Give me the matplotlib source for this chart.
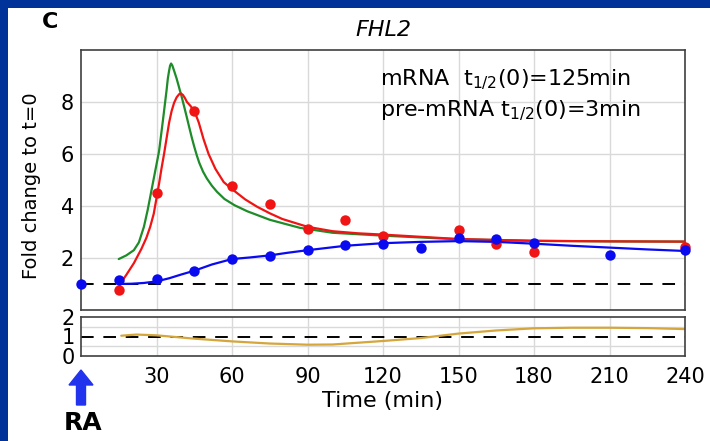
import matplotlib
matplotlib.use("Agg")
import matplotlib.pyplot as plt
from matplotlib.patches import Rectangle, FancyArrow

plt.rcParams["font.family"] = ["DejaVu Sans"]
plt.rcParams["mathtext.default"] = "regular"

# Measured fold changes (relative to t=0)
time_points = [0, 15, 30, 45, 60, 75, 90, 105, 120, 135, 150, 165, 180, 210, 240]
mrna_fold = [1.0, 1.15, 1.18, 1.5, 1.96, 2.06, 2.3, 2.5, 2.53, 2.4, 2.78, 2.72, 2.58, 2.13, 2.3]
pre_time = [15, 30, 45, 60, 75, 90, 105, 120, 150, 165, 180, 240]
pre_fold = [0.78, 4.5, 7.65, 4.76, 4.06, 3.1, 3.47, 2.85, 3.08, 2.55, 2.25, 2.44]

# Model fits
fit_green_t = [15, 18, 21, 23, 25, 26.5, 28, 29.5, 31, 32.5, 34, 34.5, 35, 35.4, 35.8, 36.3,
               37, 38, 39, 40, 41, 42, 43, 44, 45, 46, 47, 48.5, 50, 52, 54, 57, 61, 66,
               75, 87, 100, 120, 150, 180, 210, 240]
fit_green_v = [1.96, 2.1, 2.3, 2.6, 3.2, 3.85, 4.6, 5.35, 6.1, 7.25, 8.45, 8.9, 9.2, 9.4, 9.48,
               9.4, 9.2, 8.9, 8.55, 8.2, 7.82, 7.43, 7.03, 6.64, 6.28, 5.95, 5.66, 5.32, 5.06,
               4.78, 4.55, 4.27, 4.03, 3.8, 3.47, 3.16, 2.97, 2.86, 2.72, 2.66, 2.64, 2.63]
fit_red_t = [15.5, 18, 21, 24, 26, 27.5, 28.9, 30, 31, 32, 33, 34, 35, 36, 37, 38, 39, 39.7,
             40.5, 41.3, 42.1, 43.5, 45.2, 46.8, 48.7, 50.7, 53.4, 56.7, 60, 65.3, 70, 75,
             80, 87, 90, 100, 110, 120, 150, 180, 210, 240]
fit_red_v = [1.0, 1.35, 1.8, 2.35, 2.78, 3.2, 3.7, 4.3, 4.85, 5.45, 6.0, 6.6, 7.2, 7.65, 7.97,
             8.18, 8.3, 8.33, 8.27, 8.15, 8.0, 7.85, 7.62, 7.21, 6.57, 6.0, 5.43, 4.92, 4.65,
             4.25, 3.97, 3.72, 3.5, 3.29, 3.2, 3.03, 2.95, 2.9, 2.73, 2.66, 2.64, 2.63]
fit_blue_t = [15, 20, 25, 30, 35, 40, 45, 52, 60, 67, 75, 82, 90, 105, 120, 135, 150,
              165, 180, 195, 210, 225, 240]
fit_blue_v = [1.0, 1.01, 1.04, 1.1, 1.22, 1.37, 1.51, 1.75, 1.96, 2.02, 2.1, 2.2, 2.3, 2.47,
              2.57, 2.62, 2.65, 2.62, 2.55, 2.47, 2.4, 2.33, 2.27]

# Half-life ratio over time
ratio_t = [16, 22, 30, 45, 60, 75, 90, 100, 120, 135, 150, 165, 180, 195, 210, 225, 240]
ratio_v = [1.04, 1.1, 1.06, 0.89, 0.75, 0.64, 0.58, 0.59, 0.77, 0.92, 1.15, 1.31, 1.42, 1.45,
           1.45, 1.43, 1.38]

x_ticks = [30, 60, 90, 120, 150, 180, 210, 240]

W, H = 710, 441
fig = plt.figure(figsize=(W / 100, H / 100), dpi=100)
fig.patch.set_facecolor("#003399")
fig.add_artist(Rectangle((8 / W, 0), 1, 1 - 8 / H, transform=fig.transFigure,
                         facecolor="white", edgecolor="none", zorder=0))

BLUE = "#0a0af0"
RED = "#f01414"
GREEN = "#1e8c28"
GOLD = "#d4a63c"
GRID = "#d9d9d9"
SPINE = "#404040"
line_kw = dict(linewidth=1.6, solid_joinstyle="round", solid_capstyle="round")


def frame(ax):
    for s in ax.spines.values():
        s.set_color(SPINE)
        s.set_linewidth(1.2)
    ax.set_xlim(0, 240)
    ax.set_xticks(x_ticks)
    ax.grid(True, color=GRID, linewidth=1.0)
    ax.set_axisbelow(True)
    ax.tick_params(length=0)


ax = fig.add_axes([81 / W, 1 - 310 / H, 604 / W, 260 / H])
frame(ax)
ax.set_ylim(0, 10)
ax.set_yticks([2, 4, 6, 8])
ax.tick_params(axis="y", labelsize=15, pad=5)
ax.tick_params(axis="x", labelbottom=False)

ax.axhline(1, color="black", linewidth=1.4, linestyle=(0, (6.5, 5)), zorder=1)
ax.plot(fit_green_t, fit_green_v, color=GREEN, zorder=2, **line_kw)
ax.plot(fit_red_t, fit_red_v, color=RED, zorder=3, **line_kw)
ax.plot(fit_blue_t, fit_blue_v, color=BLUE, zorder=4, **line_kw)
ax.plot(pre_time, pre_fold, "o", color=RED, markersize=7.5, markeredgewidth=0,
        zorder=5, clip_on=False)
ax.plot(time_points, mrna_fold, "o", color=BLUE, markersize=7.5, markeredgewidth=0,
        zorder=6, clip_on=False)

ax.set_title("FHL2", style="italic", fontsize=16, pad=10)
ax.text(0.495, 0.719, "mRNA  t$_{1/2}$(0)=125min\npre-mRNA t$_{1/2}$(0)=3min",
        transform=ax.transAxes, fontsize=16, va="bottom", ha="left", linespacing=1.4)

ax2 = fig.add_axes([81 / W, 1 - 356 / H, 604 / W, 39 / H])
frame(ax2)
ax2.set_ylim(0, 2)
ax2.set_yticks([0, 1, 2])
ax2.set_yticks([0.5, 1.5], minor=True)
ax2.grid(False)
ax2.grid(True, axis="x", color=GRID, linewidth=1.0)
ax2.grid(True, axis="y", which="minor", color=GRID, linewidth=1.0)
ax2.tick_params(axis="y", which="both", labelsize=15, pad=4.5, length=0)
ax2.tick_params(axis="x", labelsize=15, pad=8)
ax2.axhline(1, color="black", linewidth=1.4, linestyle=(0, (6.5, 5)), zorder=1)
ax2.plot(ratio_t, ratio_v, color=GOLD, zorder=2, **line_kw)
ax2.set_xlabel("Time (min)", fontsize=16, labelpad=3)

fig.text(32 / W, 1 - 186 / H, "Fold change to t=0", rotation=90, fontsize=14,
         ha="center", va="center")
fig.text(42 / W, 1 - 22.5 / H, "C", fontsize=16, fontweight="bold", ha="left", va="center")
fig.text(83 / W, 1 - 423 / H, "RA", fontsize=18, fontweight="bold", ha="center", va="center")
fig.add_artist(FancyArrow(0.81, 0.36, 0, 0.35, width=0.09, head_width=0.24, head_length=0.15,
                          length_includes_head=True, transform=fig.dpi_scale_trans,
                          color="#2233ee", zorder=5))

fig.savefig("out.png", dpi=100, facecolor=fig.get_facecolor())
